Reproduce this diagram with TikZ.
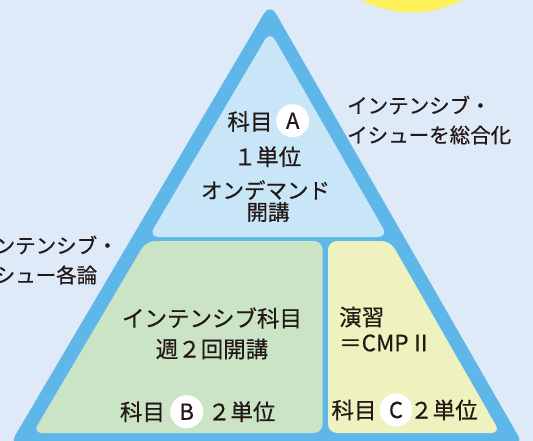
\documentclass[tikz,border=0pt]{standalone}
\usepackage{fontspec}
\setmainfont{Noto Sans CJK JP}[FakeBold=0.5]
\definecolor{bgc}{HTML}{DEEAF8}
\definecolor{band}{HTML}{5EB7E8}
\definecolor{topc}{HTML}{C8E6F8}
\definecolor{greenc}{HTML}{CCE4C6}
\definecolor{yelc}{HTML}{EDF2BE}
\definecolor{sunc}{HTML}{FFF05A}
\definecolor{ink}{HTML}{231815}
\tikzset{
  lbl/.style={inner sep=0pt, text=ink, font=\fontsize{22.5}{26}\selectfont},
  sidelbl/.style={inner sep=0pt, text=ink, font=\fontsize{20.5}{24}\selectfont, anchor=west},
  badge/.style={circle, fill=white, minimum size=33pt, inner sep=0pt, text=ink, font=\fontsize{22}{26}\selectfont}
}
\begin{document}
\begin{tikzpicture}[x=1pt,y=-1pt]
\useasboundingbox (0,0) rectangle (533,441);
\fill[bgc] (0,0) rectangle (533,441);
\fill[sunc] (412,-94) circle[radius=106.5pt];
% outer triangle
\fill[band, rounded corners=12pt] (270,446) -- (9,446) -- (270,3.3) -- (524,446) -- cycle;
% top region
\fill[topc, rounded corners=10pt] (268,237) -- (148.6,237) -- (270,31.1) -- (388,237) -- cycle;
% green region
\fill[greenc, rounded corners=9pt] (230,241) -- (146.2,241) -- (32.9,433) -- (322.7,433) -- (322.7,241) -- cycle;
% yellow region
\fill[yelc, rounded corners=9pt] (360,241) -- (328,241) -- (328,433) -- (500.3,433) -- (390.3,241) -- cycle;
% top texts
\node[lbl] (ka) at (250,121.5) {科目};
\node[badge] (bA) at (292.7,120.7) {A};
\node[lbl] (ta) at (267.5,156.7) {１単位};
\node[lbl, font=\fontsize{21.5}{25}\selectfont] (od) at (265.5,190) {オンデマンド};
\node[lbl, font=\fontsize{21.5}{25}\selectfont] (kk) at (268,212) {開講};
% green texts
\node[lbl] (gi) at (212,318) {インテンシブ科目};
\node[lbl] (gs) at (212,349) {週２回開講};
\node[lbl] (kb) at (142.5,411.7) {科目};
\node[badge] (bB) at (186.7,411.7) {B};
\node[lbl] (tb) at (241.7,411.7) {２単位};
% yellow texts
\node[lbl, anchor=west] (en) at (339,317) {演習};
\node[lbl, anchor=west] (cmp) at (339,343) {＝CMP\hspace{1pt}Ⅱ};
\node[lbl] (kc) at (354,410) {科目};
\node[badge] (bC) at (396,410) {C};
\node[lbl] (tc) at (444,410) {２単位};
% side labels
\node[sidelbl] (r1) at (347,105) {インテンシブ・};
\node[sidelbl] (r2) at (347,135) {イシューを総合化};
\node[sidelbl] (l1) at (-26,245) {インテンシブ・};
\node[sidelbl] (l2) at (-26,275) {イシュー各論};
\end{tikzpicture}
\end{document}
